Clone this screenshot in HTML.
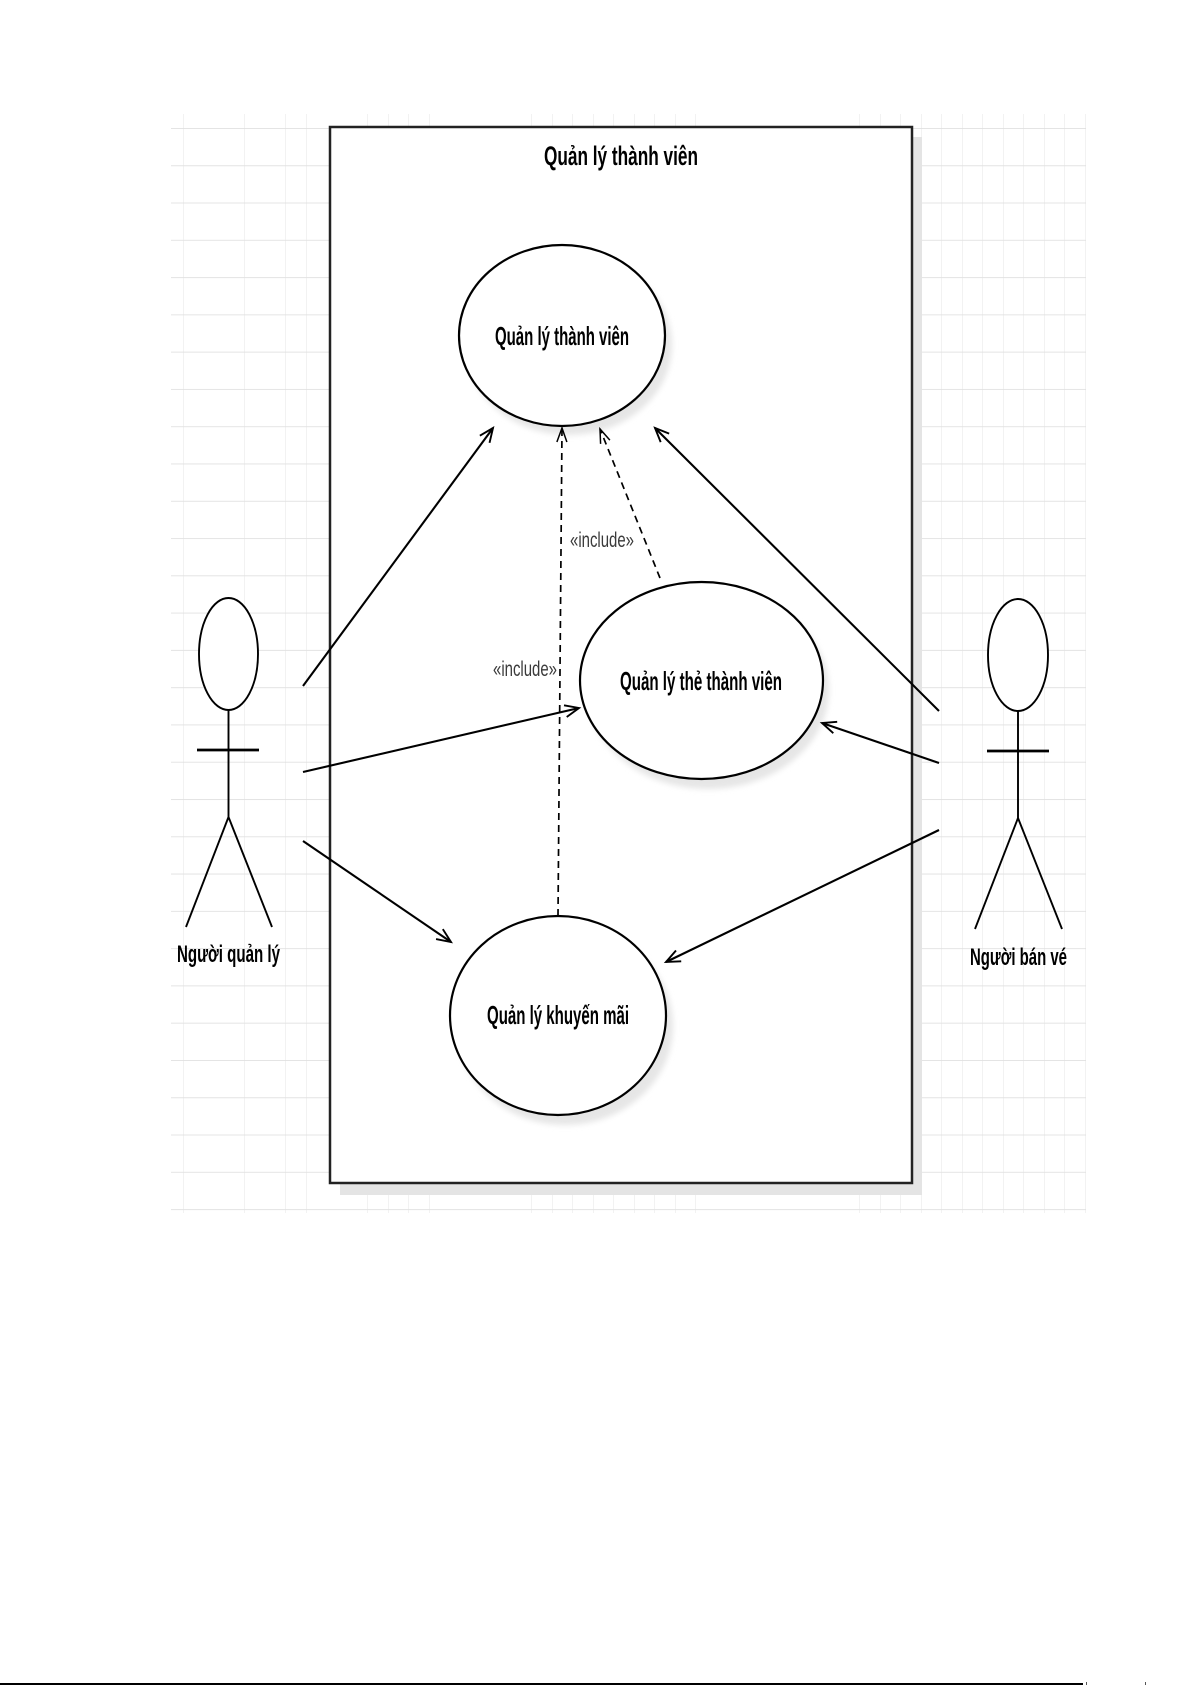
<!DOCTYPE html>
<html>
<head>
<meta charset="utf-8">
<style>
html,body{margin:0;padding:0;background:#fff;}
svg{display:block;}
text{font-family:"Liberation Sans","DejaVu Sans",sans-serif;}
</style>
</head>
<body>
<svg width="1192" height="1685" viewBox="0 0 1192 1685" xmlns="http://www.w3.org/2000/svg">
<defs>
  <pattern id="grid" patternUnits="userSpaceOnUse" x="183" y="128" width="20.5" height="37.28">
    <line x1="0" y1="0" x2="0" y2="37.28" stroke="#e6e6e6" stroke-width="1"/>
    <line x1="0" y1="0" x2="20.5" y2="0" stroke="#e0e0e0" stroke-width="1.8"/>
  </pattern>
  <filter id="blur" x="-20%" y="-20%" width="140%" height="140%">
    <feGaussianBlur stdDeviation="3"/>
  </filter>
  <marker id="arr" markerUnits="userSpaceOnUse" orient="auto" refX="0" refY="0" markerWidth="30" markerHeight="30" overflow="visible">
    <path d="M-14,-6 L0,0 L-14,6" fill="none" stroke="#000" stroke-width="1.9"/>
  </marker>
  <marker id="arrd" markerUnits="userSpaceOnUse" orient="auto" refX="0" refY="0" markerWidth="30" markerHeight="30" overflow="visible">
    <path d="M-14,-5 L0,0 L-14,5" fill="none" stroke="#000" stroke-width="1.5"/>
  </marker>
</defs>

<!-- grid background -->
<rect x="171" y="114" width="915" height="1099" fill="#fff"/>
<rect x="171" y="114" width="915" height="1099" fill="url(#grid)"/>

<!-- system boundary shadow + rect -->
<rect x="340" y="137" width="582" height="1058" fill="#e4e4e4"/>
<rect x="330" y="127" width="582" height="1056" fill="#fff" stroke="#222" stroke-width="2.5"/>

<!-- title -->
<text x="544" y="165" font-size="27" font-weight="bold" textLength="154" lengthAdjust="spacingAndGlyphs">Quản lý thành viên</text>

<!-- ellipse shadows -->
<ellipse cx="569" cy="345" rx="103" ry="90" fill="#e6e6e6" filter="url(#blur)"/>
<ellipse cx="708" cy="690" rx="121" ry="99" fill="#e6e6e6" filter="url(#blur)"/>
<ellipse cx="565" cy="1026" rx="108" ry="99" fill="#e6e6e6" filter="url(#blur)"/>

<!-- use cases -->
<ellipse cx="562" cy="335.5" rx="103" ry="90.5" fill="#fff" stroke="#000" stroke-width="2.2"/>
<text x="495" y="345" font-size="26" font-weight="bold" textLength="134" lengthAdjust="spacingAndGlyphs">Quản lý thành viên</text>

<ellipse cx="701.5" cy="680.5" rx="121.5" ry="98.5" fill="#fff" stroke="#000" stroke-width="2.2"/>
<text x="620" y="690" font-size="26" font-weight="bold" textLength="162" lengthAdjust="spacingAndGlyphs">Quản lý thẻ thành viên</text>

<ellipse cx="558" cy="1015.5" rx="108" ry="99.5" fill="#fff" stroke="#000" stroke-width="2.2"/>
<text x="487" y="1024" font-size="26" font-weight="bold" textLength="142" lengthAdjust="spacingAndGlyphs">Quản lý khuyến mãi</text>

<!-- left actor -->
<g stroke="#000" fill="none">
  <ellipse cx="228.5" cy="654" rx="29.5" ry="56" stroke-width="1.9" fill="#fff"/>
  <line x1="228.5" y1="710" x2="228.5" y2="817" stroke-width="1.9"/>
  <line x1="197" y1="750" x2="259" y2="750" stroke-width="2.8"/>
  <line x1="228.5" y1="817" x2="186" y2="927" stroke-width="1.9"/>
  <line x1="228.5" y1="817" x2="272" y2="927" stroke-width="1.9"/>
</g>
<text x="177" y="962" font-size="24" font-weight="bold" textLength="103" lengthAdjust="spacingAndGlyphs">Người quản lý</text>

<!-- right actor -->
<g stroke="#000" fill="none">
  <ellipse cx="1018" cy="655" rx="30" ry="56" stroke-width="1.9" fill="#fff"/>
  <line x1="1018" y1="711" x2="1018" y2="818" stroke-width="1.9"/>
  <line x1="987" y1="751" x2="1049" y2="751" stroke-width="2.8"/>
  <line x1="1018" y1="818" x2="975" y2="929" stroke-width="1.9"/>
  <line x1="1018" y1="818" x2="1062" y2="929" stroke-width="1.9"/>
</g>
<text x="970" y="965" font-size="24" font-weight="bold" textLength="97" lengthAdjust="spacingAndGlyphs">Người bán vé</text>

<!-- associations -->
<g stroke="#000" stroke-width="2.1" fill="none">
  <line x1="303" y1="686" x2="493" y2="428" marker-end="url(#arr)"/>
  <line x1="303" y1="772" x2="579" y2="708" marker-end="url(#arr)"/>
  <line x1="303" y1="841" x2="451" y2="942" marker-end="url(#arr)"/>
  <line x1="939" y1="711" x2="655" y2="428" marker-end="url(#arr)"/>
  <line x1="939" y1="763" x2="822" y2="723" marker-end="url(#arr)"/>
  <line x1="939" y1="830" x2="666" y2="962" marker-end="url(#arr)"/>
</g>

<!-- include dependencies -->
<g stroke="#000" stroke-width="1.7" fill="none" stroke-dasharray="7,5">
  <line x1="558" y1="916" x2="562" y2="428" marker-end="url(#arrd)"/>
  <line x1="660" y1="578" x2="600" y2="429" marker-end="url(#arrd)"/>
</g>
<text x="570" y="547" font-size="21" fill="#3a3a3a" textLength="64" lengthAdjust="spacingAndGlyphs">«include»</text>
<text x="493" y="676" font-size="21" fill="#3a3a3a" textLength="64" lengthAdjust="spacingAndGlyphs">«include»</text>

<!-- bottom page line -->
<rect x="0" y="1683" width="1083" height="2" fill="#000"/>
<rect x="1086" y="1682" width="1" height="3" fill="#555"/>
<rect x="1145" y="1682" width="1" height="3" fill="#555"/>
</svg>
</body>
</html>
